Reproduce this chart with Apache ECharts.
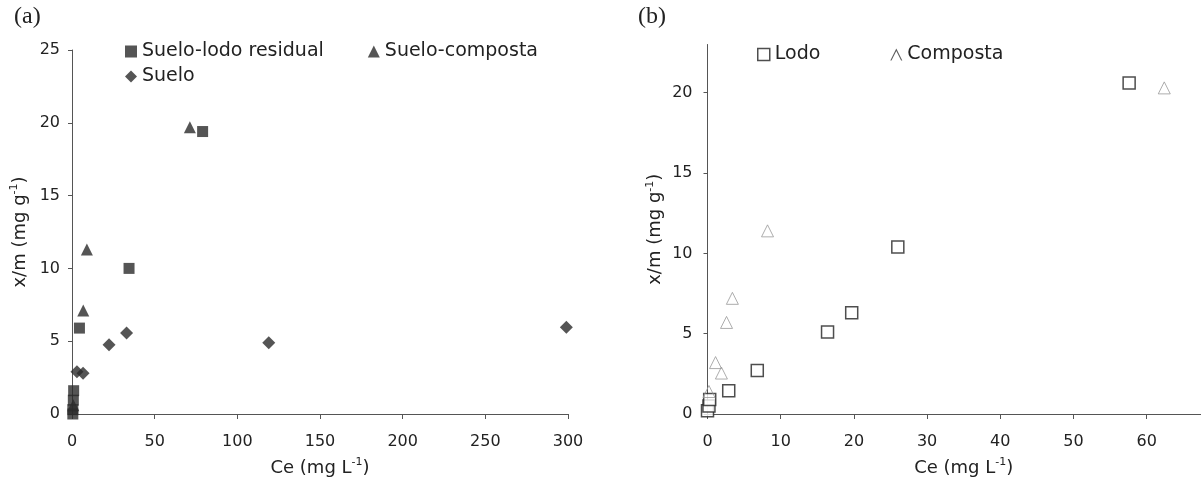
<!DOCTYPE html>
<html>
<head>
<meta charset="utf-8">
<script src="https://cdn.jsdelivr.net/npm/echarts@6/dist/echarts.min.js"></script>
<style>
html,body{margin:0;padding:0;background:#fff;}
#c{width:1201px;height:497px;}
</style>
</head>
<body>
<div id="c"></div>
<script>
// ---- Panel (a) data ----
const aXTicks = [0, 50, 100, 150, 200, 250, 300];
const aYTicks = [0, 5, 10, 15, 20, 25];
const lodoResidualCe = [0.5, 0.5, 0.8, 1.0, 4.5, 34.5, 79];
const lodoResidualQ  = [0.0, 0.3, 0.95, 1.6, 5.9, 10.0, 19.4];
const sueloCompostaCe = [0.8, 6.8, 9.0, 71.3];
const sueloCompostaQ  = [0.6, 7.1, 11.3, 19.7];
const sueloCe = [3.0, 6.7, 22.4, 33.0, 119, 299];
const sueloQ  = [2.9, 2.8, 4.75, 5.56, 4.9, 5.95];

// ---- Panel (b) data ----
const bXTicks = [0, 10, 20, 30, 40, 50, 60, 70];
const bYTicks = [0, 5, 10, 15, 20];
const lodoCe = [0, 0.2, 0.3, 2.9, 6.8, 16.4, 19.7, 26.0, 57.6];
const lodoQ  = [0.2, 0.5, 0.9, 1.45, 2.7, 5.1, 6.3, 10.4, 20.6];
const compostaCe = [0.2, 1.1, 1.9, 2.6, 3.4, 8.2, 62.4];
const compostaQ  = [1.4, 3.2, 2.55, 5.7, 7.2, 11.4, 20.3];

const zip = (xs, ys) => xs.map((x, i) => [x, ys[i]]);

const FONT = 'DejaVu Sans';
const TXT = '#222';
const AX = '#555';

const nameStyle = {
  fontFamily: FONT, fontSize: 18, color: TXT, lineHeight: 22,
  rich: { sup: { fontFamily: FONT, fontSize: 11, color: TXT, verticalAlign: 'top', lineHeight: 22, padding: [0, 0, 6, 0] } }
};
const labelStyle = { fontFamily: FONT, fontSize: 16, color: TXT };

function xAxisCfg(gridIndex, max, interval, ticks, margin) {
  return {
    type: 'value', gridIndex, min: 0, max, interval,
    name: 'Ce (mg L{sup|-1})', nameLocation: 'middle', nameGap: 43,
    nameTextStyle: nameStyle,
    axisLine: { show: true, onZero: false, lineStyle: { color: AX, width: 1 } },
    axisTick: { show: true, length: 5, lineStyle: { color: AX } , customValues: ticks},
    axisLabel: Object.assign({ margin, customValues: ticks }, labelStyle),
    splitLine: { show: false }
  };
}
function yAxisCfg(gridIndex, max, interval, ticks, margin) {
  return {
    type: 'value', gridIndex, min: 0, max, interval,
    name: 'x/m (mg g{sup|-1})', nameLocation: 'middle', nameGap: 41,
    nameTextStyle: nameStyle,
    axisLine: { show: true, onZero: false, lineStyle: { color: AX, width: 1 } },
    axisTick: { show: true, length: 4, lineStyle: { color: AX }, customValues: ticks },
    axisLabel: Object.assign({ margin, customValues: ticks }, labelStyle),
    splitLine: { show: false }
  };
}

const chart = echarts.init(document.getElementById('c'), null, { renderer: 'canvas' });
chart.setOption({
  animation: false,
  backgroundColor: '#fff',
  grid: [
    { left: 72, top: 50, width: 496, height: 364, outerBoundsMode: 'none', containLabel: false },
    { left: 707.5, top: 44.5, width: 512.4, height: 369.5, outerBoundsMode: 'none', containLabel: false }
  ],
  xAxis: [
    xAxisCfg(0, 300, 50, aXTicks, 20),
    xAxisCfg(1, 70, 10, bXTicks, 20)
  ],
  yAxis: [
    yAxisCfg(0, 25, 5, aYTicks, 12),
    yAxisCfg(1, 23, 5, bYTicks, 15)
  ],
  legend: [
    {
      left: 120, top: 37, itemWidth: 12, itemHeight: 12, itemGap: 44,
      textStyle: { fontFamily: FONT, fontSize: 19, color: TXT },
      data: ['Suelo-lodo residual', 'Suelo-composta'], selectedMode: false
    },
    {
      left: 120, top: 62, itemWidth: 12, itemHeight: 12,
      textStyle: { fontFamily: FONT, fontSize: 19, color: TXT },
      data: ['Suelo'], selectedMode: false
    },
    {
      left: 752, top: 40, itemWidth: 12, itemHeight: 12, itemGap: 70,
      textStyle: { fontFamily: FONT, fontSize: 19, color: TXT },
      data: [
        { name: 'Lodo', icon: 'rect', itemStyle: { color: '#fff', borderColor: '#222', borderWidth: 1.5 } },
        { name: 'Composta', icon: 'path://M0,10 L5,0 L10,10 L9,10 L5,2 L1,10 Z', itemStyle: { color: '#333', borderWidth: 0 } }
      ],
      selectedMode: false
    }
  ],
  graphic: [
    { type: 'text', left: 14, top: 5, style: { text: '(a)', font: '24px "Liberation Serif"', fill: TXT } },
    { type: 'text', left: 638, top: 5, style: { text: '(b)', font: '24px "Liberation Serif"', fill: TXT } }
  ],
  series: [
    {
      name: 'Suelo-lodo residual', type: 'scatter', xAxisIndex: 0, yAxisIndex: 0,
      symbol: 'rect', symbolSize: 11, itemStyle: { color: '#2a2a2a' },
      data: zip(lodoResidualCe, lodoResidualQ)
    },
    {
      name: 'Suelo-composta', type: 'scatter', xAxisIndex: 0, yAxisIndex: 0,
      symbol: 'triangle', symbolSize: 12, itemStyle: { color: '#2a2a2a' },
      data: zip(sueloCompostaCe, sueloCompostaQ)
    },
    {
      name: 'Suelo', type: 'scatter', xAxisIndex: 0, yAxisIndex: 0,
      symbol: 'diamond', symbolSize: 13, itemStyle: { color: '#2a2a2a' },
      data: zip(sueloCe, sueloQ)
    },
    {
      name: 'Lodo', type: 'scatter', xAxisIndex: 1, yAxisIndex: 1,
      symbol: 'rect', symbolSize: 12,
      itemStyle: { color: '#fff', borderColor: '#222', borderWidth: 1.5 },
      data: zip(lodoCe, lodoQ)
    },
    {
      name: 'Composta', type: 'scatter', xAxisIndex: 1, yAxisIndex: 1,
      symbol: 'triangle', symbolSize: 12,
      itemStyle: { color: 'rgba(255,255,255,0)', borderColor: '#999', borderWidth: 1 },
      data: zip(compostaCe, compostaQ)
    }
  ]
});
</script>
</body>
</html>
